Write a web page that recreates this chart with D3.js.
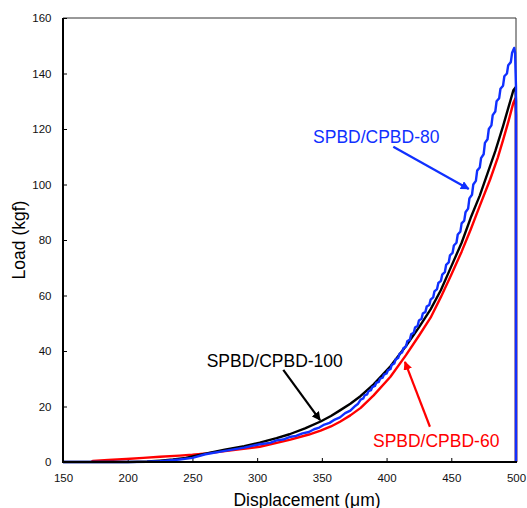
<!DOCTYPE html>
<html>
<head>
<meta charset="utf-8">
<script src="https://cdn.jsdelivr.net/npm/d3@7"></script>
<style>
  html, body { margin: 0; padding: 0; background: #fff; }
  svg { display: block; font-family: "Liberation Sans", Arial, sans-serif; }
</style>
</head>
<body>
<svg id="chart" width="527" height="508"></svg>
<script>
// ---- data ----
const xTicks = [150, 200, 250, 300, 350, 400, 450, 500];
const yTicks = [0, 20, 40, 60, 80, 100, 120, 140, 160];

const seriesNames = ["SPBD/CPBD-60", "SPBD/CPBD-100", "SPBD/CPBD-80"];
const seriesColors = ["#ff0000", "#000000", "#1030ff"];

const red60 = [
  [172, 0.0], [173, 0.4], [185, 0.7], [199, 1.1], [212, 1.5], [225, 1.9], [240, 2.3], [250, 2.6],
  [261, 3.1], [280, 4.2], [302, 5.5], [325, 8.0], [340, 9.9], [349, 11.3], [357, 12.8],
  [364, 14.5], [372, 16.8], [380, 19.5], [390, 24.0], [403, 30.7], [415, 38.5], [425, 45.5],
  [434, 52.0], [442, 59.5], [450, 67.5], [458, 75.8], [465, 83.8], [472, 92.3], [480, 101.8],
  [486, 109.8], [490, 116.0], [494, 122.5], [498, 129.5], [499.5, 131.0], [500, 125.0], [500, 0]
];

const black100 = [
  [150, 0.0], [200, 0.0], [215, 0.2], [225, 0.5], [235, 0.9], [245, 1.5], [250, 2.0],
  [260, 3.0], [275, 4.4], [290, 5.7], [302, 7.0], [315, 8.6], [325, 10.0], [337, 12.1],
  [349, 14.6], [357, 16.6], [364, 18.6], [372, 21.0], [380, 23.8], [390, 28.0], [403, 34.5],
  [415, 41.8], [425, 48.5], [434, 55.0], [442, 62.0], [450, 70.5], [458, 79.0], [465, 88.0],
  [472, 96.0], [478, 104.0], [484, 112.0], [490, 121.0], [494, 127.5], [498, 134.0],
  [499.6, 135.0], [500, 130.0], [500, 0]
];

const blue80 = [
  [150, 0.0], [200, 0.0], [215, 0.1], [225, 0.3], [240, 0.9], [250, 1.5], [260, 2.8],
  [275, 4.0], [290, 5.2], [302, 6.4], [310, 6.9], [315, 7.8], [320, 8.1], [325, 9.0],
  [330, 9.4], [335, 10.3], [340, 10.8], [344, 11.8], [348, 12.4], [352, 13.5], [356, 14.1],
  [360, 15.3], [364, 16.1], [368, 17.6], [372, 18.5], [376, 20.3], [378, 21.0],
  [380, 22.5], [382, 22.9], [383, 24.0], [385, 24.4], [386, 25.5], [388, 25.9], [389, 27.0],
  [391, 27.4], [392, 28.5], [394, 28.9], [395, 30.0], [397, 30.4], [398, 31.5], [400, 31.9],
  [401, 33.0], [403, 33.5], [404, 35.0], [406, 35.5], [407, 37.0], [409, 37.5], [410, 39.0],
  [412, 39.5], [413, 41.0], [415, 41.6], [416, 43.5], [418, 44.1], [419, 46.0], [421, 46.6],
  [422, 48.5], [424, 49.1], [425, 51.0], [427, 51.6], [428, 53.5], [430, 54.1], [431, 56.0],
  [433, 56.6], [434, 58.5], [436, 59.3], [437, 61.5], [439, 62.3], [440, 64.5], [442, 65.3],
  [443, 67.5], [445, 68.4], [446, 71.0], [448, 71.9], [449, 74.5], [451, 75.4], [452, 78.0],
  [454, 79.0], [455, 82.0], [457, 83.0], [458, 86.0], [460, 87.0], [461, 90.0], [463, 91.3],
  [464, 95.0], [466, 96.3], [467, 100.0], [469, 101.3], [470, 105.0], [472, 106.1],
  [473, 109.5], [475, 110.9], [476, 115.0], [478, 116.3], [479, 120.0], [481, 121.3],
  [482, 125.0], [484, 126.3], [485, 130.0], [487, 131.1], [488, 134.5], [490, 135.6],
  [491, 139.0], [493, 140.0], [494, 143.0], [496, 144.1], [497, 147.5], [498.6, 149.2],
  [499.3, 147.5], [499.7, 140.0], [500, 135.0], [500, 0]
];

// annotations (data units)
const annotLabels = ["SPBD/CPBD-80", "SPBD/CPBD-100", "SPBD/CPBD-60"];
const annotColors = ["#1030ff", "#000000", "#ff0000"];
const annotText = [[343.2, 114.8], [261.0, 34.1], [389.5, 5.5]];
const annotFrom = [[405.2, 113.6], [320.2, 33.2], [433.5, 12.7]];
const annotTo = [[463.5, 98.4], [348.6, 15.1], [414.2, 36.1]];

// ---- chart ----
const svg = d3.select("#chart");
const margin = {left: 63, right: 11, top: 18, bottom: 46};
const W = 527, H = 508;

const x = d3.scaleLinear().domain([150, 500]).range([margin.left, W - margin.right]);
const y = d3.scaleLinear().domain([0, 160]).range([H - margin.bottom, margin.top]);

// frame top/right
svg.append("line").attr("x1", x(150)).attr("x2", x(500)).attr("y1", y(160)).attr("y2", y(160))
  .attr("stroke", "#333").attr("stroke-width", 1);
svg.append("line").attr("x1", x(500)).attr("x2", x(500)).attr("y1", y(160)).attr("y2", y(0))
  .attr("stroke", "#333").attr("stroke-width", 1);

// axes
const xAxis = d3.axisBottom(x).tickValues(xTicks).tickSizeInner(-4).tickSizeOuter(0).tickPadding(11.5);
const yAxis = d3.axisLeft(y).tickValues(yTicks).tickSizeInner(-4).tickSizeOuter(0).tickPadding(11.5);

const gx = svg.append("g").attr("transform", `translate(0,${y(0)})`).call(xAxis);
const gy = svg.append("g").attr("transform", `translate(${x(150)},0)`).call(yAxis);
[gx, gy].forEach(g => {
  g.select(".domain").remove();
  g.selectAll(".tick line").attr("stroke", "#000").attr("stroke-width", 1);
  g.selectAll(".tick text").attr("fill", "#111").style("font-size", "11.5px")
    .style("font-family", "'Liberation Sans', Arial, sans-serif");
});

// data lines
const line = d3.line().x(d => x(d[0])).y(d => y(d[1]));
const allSeries = [red60, black100, blue80];
allSeries.forEach((s, i) => {
  svg.append("path").datum(s).attr("d", line)
    .attr("fill", "none").attr("stroke", seriesColors[i])
    .attr("stroke-width", 2.4).attr("stroke-linejoin", "round");
});

// axis lines (left and bottom, thick)
svg.append("line").attr("x1", x(150)).attr("x2", x(150)).attr("y1", y(160)).attr("y2", y(0) + 1)
  .attr("stroke", "#000").attr("stroke-width", 2);
svg.append("line").attr("x1", x(150) - 1).attr("x2", x(500) + 1).attr("y1", y(0)).attr("y2", y(0))
  .attr("stroke", "#000").attr("stroke-width", 2);

// arrow markers
const defs = svg.append("defs");
annotColors.forEach((c, i) => {
  defs.append("marker").attr("id", "arr" + i)
    .attr("viewBox", "0 0 10 10").attr("refX", 9).attr("refY", 5)
    .attr("markerWidth", 4).attr("markerHeight", 4).attr("orient", "auto")
    .attr("markerUnits", "strokeWidth")
    .append("path").attr("d", "M0,0 L10,5 L0,10 Z").attr("fill", c);
});

annotLabels.forEach((lab, i) => {
  svg.append("line")
    .attr("x1", x(annotFrom[i][0])).attr("y1", y(annotFrom[i][1]))
    .attr("x2", x(annotTo[i][0])).attr("y2", y(annotTo[i][1]))
    .attr("stroke", annotColors[i]).attr("stroke-width", 2.2)
    .attr("marker-end", `url(#arr${i})`);
  svg.append("text").attr("x", x(annotText[i][0])).attr("y", y(annotText[i][1]))
    .attr("fill", annotColors[i]).style("font-size", "17.5px").text(lab);
});

// axis titles
svg.append("text").attr("x", 307).attr("y", 506).attr("text-anchor", "middle")
  .attr("fill", "#000").style("font-size", "17.5px").text("Displacement (μm)");
svg.append("text").attr("transform", `translate(25,${(y(0) + y(160)) / 2}) rotate(-90)`)
  .attr("text-anchor", "middle").attr("fill", "#000").style("font-size", "17.5px").text("Load (kgf)");
</script>
</body>
</html>
